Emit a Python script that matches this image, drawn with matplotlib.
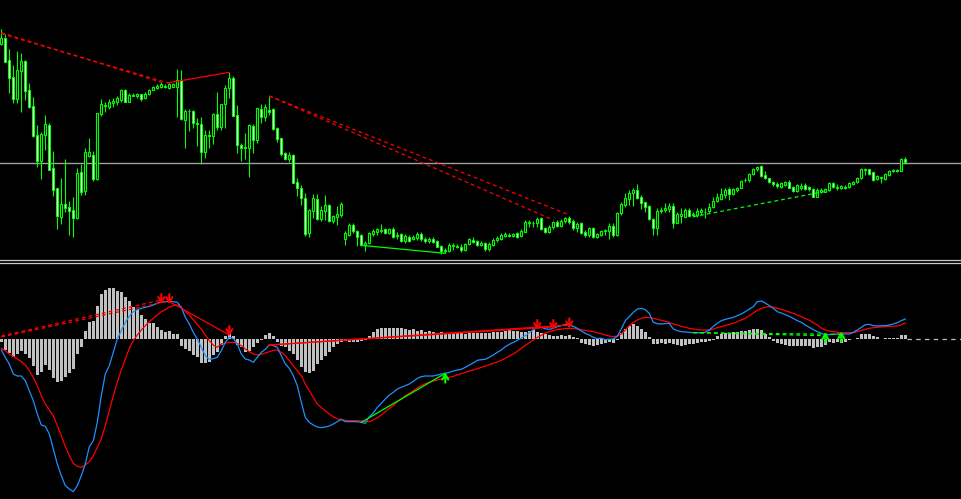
import numpy as np
import matplotlib
matplotlib.use('Agg')
import matplotlib.pyplot as plt
from matplotlib.lines import Line2D

# ---- price candles (price units, 227 bars) ----
opens = [
    647, 665, 600, 548, 484, 568, 597, 509, 461, 375,
    297, 375, 405, 275, 215, 130, 168, 160, 149, 127,
    263, 208, 312, 315, 243, 439, 462, 459, 471, 475,
    480, 510, 475, 493, 492, 497, 485, 497, 511, 517,
    520, 523, 515, 520, 520, 539, 420, 447, 447, 412,
    407, 323, 375, 372, 437, 400, 467, 515, 545, 435,
    345, 340, 337, 402, 360, 453, 430, 450, 453, 395,
    365, 320, 303, 315, 233, 215, 185, 80, 148, 182,
    122, 148, 165, 118, 130, 135, 64, 75, 105, 87,
    75, 45, 50, 78, 85, 88, 93, 82, 93, 72,
    77, 58, 70, 63, 65, 79, 62, 56, 64, 57,
    42, 28, 27, 42, 40, 40, 30, 48, 60, 56,
    46, 52, 32, 46, 60, 64, 72, 76, 73, 80,
    72, 85, 112, 112, 110, 127, 95, 84, 98, 115,
    103, 117, 127, 117, 97, 110, 85, 75, 97, 70,
    76, 86, 88, 102, 75, 140, 166, 182, 200, 210,
    188, 173, 162, 123, 95, 146, 150, 153, 163, 112,
    132, 130, 150, 134, 134, 145, 143, 147, 160, 178,
    183, 195, 212, 198, 210, 217, 239, 240, 258, 272,
    282, 255, 245, 233, 228, 220, 226, 235, 220, 208,
    217, 225, 218, 212, 190, 205, 205, 210, 232, 216,
    215, 220, 220, 228, 233, 245, 270, 272, 263, 242,
    245, 243, 256, 266, 269, 268, 303]
highs = [
    693, 677, 633, 585, 627, 620, 600, 530, 490, 405,
    385, 435, 410, 327, 215, 245, 303, 177, 188, 275,
    289, 335, 365, 327, 441, 483, 475, 483, 485, 493,
    513, 513, 500, 501, 502, 499, 505, 513, 521, 527,
    533, 528, 530, 531, 573, 571, 453, 453, 449, 427,
    430, 390, 389, 442, 505, 467, 525, 563, 552, 465,
    350, 380, 407, 407, 457, 467, 467, 492, 457, 398,
    367, 323, 323, 318, 245, 225, 200, 153, 198, 197,
    162, 195, 168, 135, 162, 175, 88, 110, 110, 90,
    78, 58, 85, 92, 97, 108, 97, 96, 100, 85,
    82, 77, 75, 75, 83, 85, 70, 70, 68, 60,
    45, 36, 50, 50, 48, 47, 50, 67, 70, 60,
    56, 55, 55, 65, 72, 80, 83, 80, 80, 83,
    92, 120, 120, 117, 128, 130, 100, 105, 118, 120,
    122, 130, 132, 122, 115, 115, 90, 100, 100, 82,
    90, 92, 112, 110, 145, 175, 200, 210, 215, 228,
    195, 175, 165, 125, 155, 160, 172, 170, 170, 145,
    157, 157, 157, 145, 155, 155, 155, 170, 190, 200,
    215, 215, 218, 215, 220, 240, 245, 262, 277, 283,
    285, 267, 247, 237, 235, 233, 238, 240, 223, 228,
    230, 230, 222, 215, 215, 215, 215, 235, 235, 227,
    225, 225, 233, 238, 250, 275, 277, 274, 265, 255,
    250, 260, 270, 273, 274, 305, 308]
lows = [
    645, 593, 500, 470, 470, 445, 480, 455, 370, 280,
    243, 330, 270, 193, 93, 108, 145, 75, 69, 123,
    195, 195, 310, 237, 240, 433, 443, 453, 460, 465,
    473, 473, 473, 491, 487, 477, 483, 495, 509, 513,
    515, 515, 513, 518, 430, 420, 337, 388, 397, 343,
    287, 307, 335, 349, 390, 390, 395, 485, 433, 320,
    297, 303, 250, 320, 350, 410, 417, 435, 390, 353,
    313, 300, 295, 230, 193, 165, 73, 70, 125, 120,
    118, 120, 115, 112, 105, 130, 46, 72, 82, 42,
    43, 28, 47, 72, 75, 80, 77, 78, 65, 62,
    55, 50, 53, 60, 60, 57, 50, 52, 50, 38,
    18, 20, 24, 30, 35, 25, 27, 45, 50, 43,
    43, 28, 27, 43, 55, 60, 68, 68, 70, 65,
    70, 83, 100, 100, 100, 90, 80, 80, 92, 98,
    100, 112, 108, 90, 85, 77, 68, 70, 65, 67,
    73, 75, 63, 70, 72, 135, 160, 165, 162, 182,
    153, 145, 120, 75, 75, 140, 143, 145, 95, 110,
    110, 128, 130, 130, 130, 135, 125, 140, 155, 175,
    180, 187, 180, 195, 205, 215, 235, 235, 255, 268,
    248, 243, 230, 223, 215, 215, 222, 215, 205, 203,
    210, 210, 208, 188, 188, 200, 203, 208, 215, 210,
    212, 212, 217, 225, 230, 243, 255, 255, 238, 240,
    230, 240, 253, 263, 264, 266, 288]
closes = [
    667, 595, 547, 484, 570, 597, 508, 460, 373, 297,
    377, 407, 270, 210, 133, 168, 157, 148, 127, 260,
    205, 324, 324, 243, 441, 468, 465, 473, 477, 485,
    510, 475, 495, 495, 498, 483, 498, 510, 519, 523,
    527, 518, 527, 528, 539, 422, 447, 446, 412, 407,
    325, 375, 372, 439, 400, 467, 515, 545, 433, 345,
    335, 336, 405, 360, 455, 430, 460, 445, 392, 363,
    317, 303, 315, 232, 215, 185, 78, 150, 185, 122,
    150, 165, 118, 132, 138, 168, 80, 105, 87, 70,
    45, 52, 82, 88, 92, 90, 82, 93, 70, 76,
    58, 72, 58, 68, 79, 62, 56, 64, 55, 40,
    27, 31, 45, 45, 43, 30, 48, 62, 55, 46,
    52, 32, 48, 60, 67, 75, 77, 73, 77, 68,
    88, 115, 114, 110, 123, 92, 84, 100, 115, 103,
    118, 127, 115, 95, 107, 80, 75, 97, 70, 78,
    87, 90, 102, 75, 142, 168, 185, 202, 210, 185,
    172, 160, 123, 95, 147, 151, 157, 163, 112, 137,
    138, 150, 133, 138, 148, 150, 145, 158, 178, 190,
    197, 210, 198, 212, 216, 238, 241, 258, 273, 280,
    252, 245, 233, 228, 222, 230, 235, 217, 208, 225,
    223, 213, 212, 190, 210, 210, 213, 232, 218, 220,
    222, 215, 230, 235, 247, 272, 272, 258, 240, 252,
    248, 257, 268, 269, 267, 303, 293]

level_price = 291

# ---- MACD pane ----
macd = [
    -33, -55, -75, -105, -111, -111, -125, -155, -185, -225,
    -258, -262, -285, -330, -375, -410, -440, -450, -458, -440,
    -410, -375, -323, -305, -250, -170, -105, -80, -40, 0,
    25, 50, 68, 82, 88, 92, 95, 98, 102, 108,
    112, 112, 112, 112, 110, 95, 65, 45, 20, 0,
    -25, -50, -61, -59, -55, -35, -10, 5, 2, -15,
    -45, -60, -63, -70, -55, -40, -31, -18, -20, -25,
    -50, -75, -88, -110, -140, -190, -235, -250, -258, -264,
    -266, -264, -261, -255, -248, -241, -248, -248, -248, -248,
    -250, -253, -233, -222, -205, -193, -180, -168, -160, -150,
    -145, -140, -135, -127, -118, -113, -111, -111, -111, -108,
    -105, -103, -100, -96, -93, -91, -85, -78, -72, -64,
    -62, -61, -55, -48, -40, -33, -23, -16, -10, -4,
    3, 10, 19, 28, 35, 35, 31, 29, 32, 37,
    40, 44, 42, 38, 32, 24, 17, 12, 5, 1,
    2, -2, -1, 0, 8, 30, 55, 67, 80, 90,
    92, 88, 77, 50, 46, 45, 46, 47, 30, 25,
    22, 21, 20, 19, 19, 19, 20, 27, 38, 47,
    55, 59, 62, 65, 70, 75, 82, 90, 97, 112,
    114, 108, 100, 92, 82, 78, 73, 68, 62, 55,
    50, 42, 35, 28, 22, 17, 12, 13, 14, 15,
    15, 15, 15, 20, 27, 35, 43, 44, 40, 39,
    40, 40, 42, 45, 49, 55, 60]
signal = [
    -28, -35, -45, -52, -60, -68, -78, -95, -115, -140,
    -170, -195, -213, -230, -260, -290, -323, -350, -373, -382,
    -385, -378, -368, -350, -325, -300, -260, -215, -170, -130,
    -93, -60, -28, -5, 12, 27, 40, 52, 62, 72,
    82, 88, 96, 100, 102, 95, 83, 72, 58, 43,
    30, 12, -5, -18, -25, -15, -12, -10, -10, -13,
    -20, -30, -38, -45, -48, -46, -42, -38, -34, -33,
    -40, -50, -65, -80, -95, -110, -135, -155, -175, -195,
    -205, -215, -225, -233, -240, -242, -244, -245, -245, -245,
    -246, -247, -248, -243, -236, -228, -218, -208, -200, -188,
    -180, -170, -163, -155, -147, -140, -134, -130, -126, -123,
    -120, -118, -115, -112, -108, -104, -100, -96, -93, -89,
    -85, -81, -77, -73, -69, -64, -58, -51, -45, -37,
    -28, -19, -11, -3, 5, 11, 18, 22, 25, 28,
    30, 31, 32, 32, 30, 28, 26, 24, 22, 19,
    16, 12, 9, 7, 9, 15, 27, 40, 50, 57,
    62, 65, 64, 62, 59, 56, 53, 50, 45, 42,
    38, 35, 32, 30, 28, 27, 27, 27, 30, 34,
    37, 40, 44, 47, 52, 57, 62, 70, 78, 86,
    92, 95, 97, 96, 92, 89, 85, 81, 77, 72,
    67, 62, 56, 49, 42, 33, 27, 24, 22, 20,
    19, 19, 19, 19, 22, 26, 29, 32, 34, 35,
    36, 37, 38, 38, 39, 43, 48]
hist = [
    -8, -33, -43, -53, -46, -35, -45, -58, -81, -108,
    -98, -78, -93, -118, -128, -125, -113, -101, -91, -46,
    -25, 25, 51, 54, 100, 134, 147, 152, 152, 145,
    140, 127, 113, 97, 87, 72, 60, 49, 47, 37,
    27, 22, 24, 15, 15, -21, -31, -35, -48, -53,
    -73, -71, -68, -48, -38, -18, 10, 17, 8, -18,
    -25, -38, -35, -25, -11, -3, 12, 19, 9, -8,
    -21, -25, -35, -45, -62, -85, -100, -103, -95, -75,
    -63, -50, -38, -25, -15, -8, -5, -8, -10, -8,
    -5, -3, 10, 20, 30, 34, 34, 33, 34, 33,
    33, 30, 27, 29, 25, 27, 22, 25, 20, 18,
    20, 18, 19, 19, 17, 17, 15, 19, 19, 19,
    17, 19, 19, 22, 22, 22, 25, 27, 25, 25,
    22, 22, 25, 27, 22, 17, 15, 12, 9, 9,
    12, 9, 12, 5, 2, -11, -15, -18, -20, -18,
    -16, -13, -10, -11, -3, 17, 29, 39, 45, 39,
    29, 20, 5, -15, -15, -13, -15, -13, -15, -18,
    -20, -18, -15, -15, -13, -10, -8, -5, -3, 9,
    15, 19, 17, 22, 22, 24, 25, 27, 30, 30,
    27, 15, 7, -6, -12, -15, -18, -20, -20, -22,
    -22, -20, -22, -28, -25, -25, -18, -10, -12, -10,
    -12, -8, -3, -1, 2, 14, 15, 15, 9, 5,
    0, 2, 4, 2, 4, 12, 12]

# divergence lines: (bar1, value1, bar2, value2)
price_red_dash = [(0, 682, 40, 533), (0, 679, 42, 530), (67, 492, 142, 135), (67, 492, 138, 120)]
price_red_solid = [(42, 532, 57, 563)]
price_green_solid = [(90, 44, 111, 20)]
price_green_dash = [(173, 130, 207, 208)]
macd_red_dash = [(0, 9, 40, 117), (0, 6, 42, 114)]
macd_red_solid = [(42, 112, 57, 12), (67, -18, 142, 42), (67, -18, 138, 36)]
macd_green_solid = [(90, -250, 111, -103)]
macd_green_dash = [(173, 19, 206, 10), (173, 19, 210, 14)]

# signal arrows on the MACD pane (bar, tip value)
sell_bars = [40, 42, 57, 134, 138, 142]
sell_tips = [105, 105, 9, 27, 27, 32]
buy_bars = [111, 206, 210]
buy_tips = [-101, 20, 22]

LIME = '#00FF00'
W, H = 962, 499
n = len(closes)
x = np.arange(n)

fig = plt.figure(figsize=(W / 100, H / 100), dpi=100, facecolor='black')
ax1 = fig.add_axes([0, 1 - 258 / H, 1, 258 / H])
ax2 = fig.add_axes([0, 0, 1, 236 / H])
for ax in (ax1, ax2):
    ax.set_facecolor('black')
    ax.set_xlim(-0.325, 240.175)
    ax.axis('off')
ax1.set_ylim(6, 780)
ax2.set_ylim(-480, 228)

# candles
o = np.array(opens)
c = np.array(closes)
ax1.vlines(x, lows, highs, colors=LIME, linewidth=0.8, zorder=2)
face = np.where(c >= o, 'black', 'white')
body = c - o
body = np.where(body == 0, 0.8, body)
ax1.bar(x, body, bottom=o, width=0.45, color=face, edgecolor=LIME, linewidth=0.8, zorder=3)
ax1.axhline(level_price, color='#A0A0A0', linewidth=1.0, zorder=1)

def draw_segments(ax, segs, color, dashed):
    for b1, v1, b2, v2 in segs:
        ax.plot([b1, b2], [v1, v2], color=color, linewidth=0.9,
                linestyle=(0, (3, 2.5)) if dashed else '-', zorder=4)

draw_segments(ax1, price_red_dash, 'red', True)
draw_segments(ax1, price_red_solid, 'red', False)
draw_segments(ax1, price_green_solid, LIME, False)
draw_segments(ax1, price_green_dash, LIME, True)

# MACD pane
ax2.bar(x, hist, width=0.75, color='#C0C0C0', linewidth=0, zorder=1)
ax2.hlines(0, n - 0.5, 240.175, colors='#C0C0C0', linewidth=0.9,
           linestyles=(0, (3.5, 3.5)), zorder=1)
ax2.plot(x, signal, color='red', linewidth=0.9, zorder=3)
ax2.plot(x, macd, color='#1E90FF', linewidth=0.9, zorder=3)
draw_segments(ax2, macd_red_dash, 'red', True)
draw_segments(ax2, macd_red_solid, 'red', False)
draw_segments(ax2, macd_green_solid, LIME, False)
draw_segments(ax2, macd_green_dash, LIME, True)

arrow_kw = dict(arrowstyle='->,head_width=0.22,head_length=0.35', lw=1.5,
                shrinkA=0, shrinkB=0)
for b, v in zip(sell_bars, sell_tips):
    ax2.annotate('', xy=(b, v), xytext=(b, v + 30),
                 arrowprops=dict(color='red', **arrow_kw), zorder=5)
for b, v in zip(buy_bars, buy_tips):
    ax2.annotate('', xy=(b, v), xytext=(b, v - 30),
                 arrowprops=dict(color=LIME, **arrow_kw), zorder=5)

# window separator
for yp in (259.5, 262.5):
    fig.add_artist(Line2D([0, 1], [1 - yp / H, 1 - yp / H], color='#C8C8C8',
                          linewidth=0.9, transform=fig.transFigure))

fig.savefig('out.png', dpi=100, facecolor='black')
